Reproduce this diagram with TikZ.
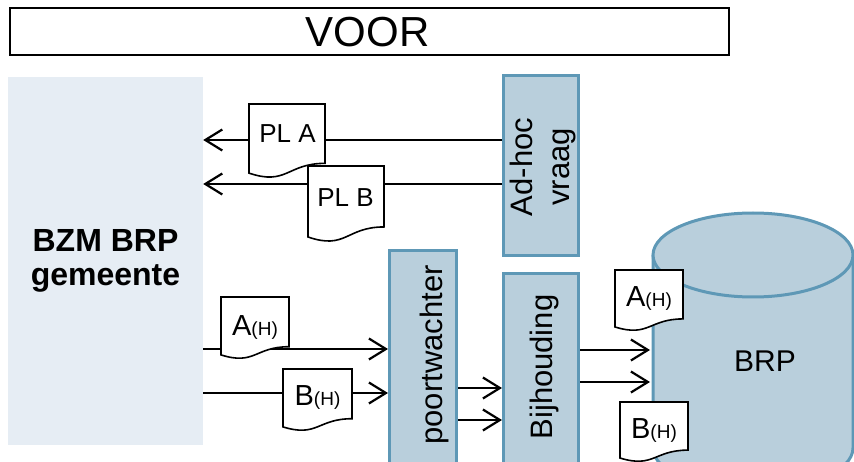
\documentclass[tikz,border=0pt]{standalone}
\usepackage{fontspec}
\setmainfont{Liberation Sans}
\usetikzlibrary{arrows.meta}
\definecolor{boxfill}{HTML}{B9CFDC}
\definecolor{boxline}{HTML}{5E98B6}
\definecolor{leftfill}{HTML}{E6EDF4}
\newcommand\hsub{\fontsize{19}{20}\selectfont}
\newcommand\docshape[4]{%
  \draw[docline] (#1,#2) -- ({#1+#3},#2) -- ({#1+#3},{#2+0.802*#4})
    .. controls ({#1+0.5*#3},{#2+0.802*#4}) and ({#1+0.5*#3},{#2+1.107*#4}) ..
    (#1,{#2+0.934*#4}) -- cycle;}
\begin{document}
\begin{tikzpicture}[x=1pt,y=-1pt,
  bluebox/.style={draw=boxline, fill=boxfill, line width=3pt, inner sep=0pt},
  boxlabel/.style={rotate=90, font=\fontsize{31}{37}\selectfont, align=center, inner sep=0pt},
  arr/.style={line width=2.2pt, -{Straight Barb[length=17pt,width=21pt]}},
  docline/.style={draw=black, fill=white, line width=1.6pt},
  doctext/.style={anchor=base, inner sep=0pt, font=\fontsize{29}{30}\selectfont},
  cyl/.style={draw=boxline, fill=boxfill, line width=3pt}]
\path[use as bounding box] (0,0) rectangle (854,462);
\clip (0,0) rectangle (854,462);
% title
\node[draw=black, line width=2.2pt, minimum width=719pt, minimum height=47pt, inner sep=0pt]
  (title) at (369.5,31.5) {};
\node[anchor=base, inner sep=0pt, font=\fontsize{42}{42}\selectfont] (voor) at (367.5,47) {VOOR};
% left box
\node[fill=leftfill, minimum width=195pt, minimum height=368pt, inner sep=0pt, align=center,
  font=\bfseries\fontsize{32}{34}\selectfont] (bzm) at (105.5,261) {BZM BRP\\gemeente};
% blue boxes
\node[bluebox, minimum width=75pt, minimum height=180pt] (adhoc) at (541,165.5) {};
\node[bluebox, minimum width=67pt, minimum height=238pt] (poort) at (423,369.5) {};
\node[bluebox, minimum width=75pt, minimum height=215pt] (bijh) at (541,381) {};
\node[boxlabel] (adhocT) at (542.5,167) {Ad-hoc\\vraag};
\node[boxlabel] (poortT) at (434,355) {poortwachter};
\node[boxlabel] (bijhT) at (544,367) {Bijhouding};
% cylinder
\draw[cyl] (653,255) -- (653,448) arc[start angle=180, end angle=0, x radius=100, y radius=42] -- (853,255);
\draw[cyl] (753,255) ellipse [x radius=100, y radius=42];
\node[font=\fontsize{30}{30}\selectfont, inner sep=0pt] (brp) at (765,361) {BRP};
\coordinate (cylwest) at (650,361);
% connector heights
\coordinate (ya) at (0,140);
\coordinate (yb) at (0,184);
\coordinate (yc) at (0,349);
\coordinate (yd) at (0,393);
\coordinate (ye) at (0,388);
\coordinate (yf) at (0,420);
\coordinate (yg) at (0,350);
\coordinate (yh) at (0,382);
% connectors
\draw[arr] (adhoc.west |- ya) -- (bzm.east |- ya);
\draw[arr] (adhoc.west |- yb) -- (bzm.east |- yb);
\draw[arr] (bzm.east |- yc) -- (poort.west |- yc);
\draw[arr] (bzm.east |- yd) -- (poort.west |- yd);
\draw[arr] (poort.east |- ye) -- (bijh.west |- ye);
\draw[arr] (poort.east |- yf) -- (bijh.west |- yf);
\draw[arr] (bijh.east |- yg) -- (cylwest |- yg);
\draw[arr] (bijh.east |- yh) -- (cylwest |- yh);
% documents
\docshape{249}{104}{76}{74}
\docshape{308}{166}{76}{76}
\docshape{221}{297}{68}{62}
\docshape{283}{369}{69}{62}
\docshape{615}{270}{68}{61}
\docshape{620}{402}{68}{60}
\node[doctext, font=\fontsize{26}{27}\selectfont] (pla) at (287.5,143) {PL A};
\node[doctext, font=\fontsize{26}{27}\selectfont] (plb) at (345.5,207) {PL B};
\node[doctext] (ahl) at (255,335) {A{\hsub(H)}};
\node[doctext] (bhl) at (317.5,405) {B{\hsub(H)}};
\node[doctext] (ahr) at (649,307) {A{\hsub(H)}};
\node[doctext] (bhr) at (654,438) {B{\hsub(H)}};
\end{tikzpicture}
\end{document}
